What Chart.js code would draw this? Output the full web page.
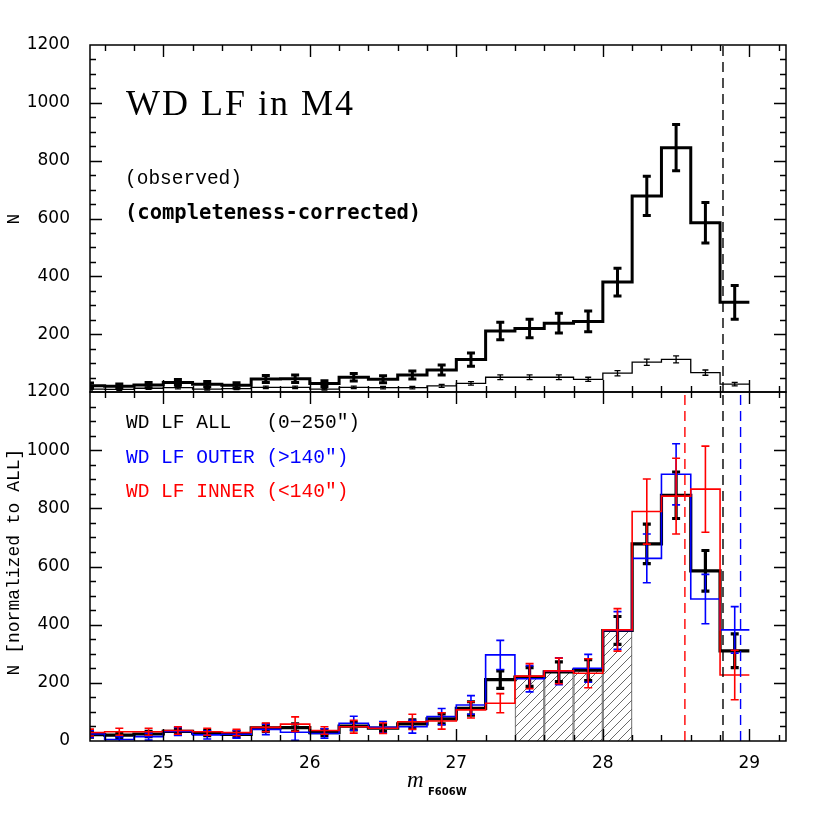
<!DOCTYPE html>
<html><head><meta charset="utf-8">
<script src="https://cdn.jsdelivr.net/npm/chart.js@4.4.1/dist/chart.umd.min.js"></script>
<style>
html,body{margin:0;padding:0;background:#fff;}
#wrap{position:relative;width:830px;height:830px;background:#fff;}
canvas{position:absolute;left:0;top:0;}
</style></head><body>
<div id="wrap"><canvas id="cTop" width="830" height="830"></canvas><canvas id="cBot" width="830" height="830"></canvas></div>
<script>
// ---------------- data ----------------
const binCenters = [24.5,24.7,24.9,25.1,25.3,25.5,25.7,25.9,26.1,26.3,26.5,26.7,26.9,27.1,27.3,27.5,27.7,27.9,28.1,28.3,28.5,28.7,28.9];
const binWidth = 0.2;
// completeness-corrected LF (ALL, 0-250")
const allN   = [22,20,24,33,27,23,45,46,29,51,44,59,76,112,211,220,238,244,380,678,845,585,310];
const allErr = [9,8,9,10,9,9,12,13,10,13,12,14,17,23,30,32,34,36,48,68,80,70,58];
// observed LF
const obsN   = [10,9,13,15,10,12,16,16,10,16,15,15,21,30,51,51,51,44,65,103,113,67,27];
const obsErr = [3,3,4,4,3,4,4,4,3,4,4,4,5,6,8,8,8,7,9,11,12,9,6];
// OUTER (>140")
const outerN   = [24,5,15,33,21,23,40,30,26,61,47,49,84,124,296,214,240,250,380,628,917,488,382];
const outerErr = [12,10,12,14,14,13,18,28,16,24,20,22,28,32,50,45,46,48,65,84,105,85,80];
// INNER (<140")
const innerN   = [29,32,32,36,32,29,47,58,36,49,44,66,69,107,130,223,241,233,382,789,842,866,227];
const innerErr = [12,12,12,13,12,11,15,25,13,22,18,26,28,28,33,43,44,50,73,112,130,148,85];
// hatched bins
const hatchCenters = [27.5,27.7,27.9,28.1];
const hatchN = [220,238,244,380];
// limits (vertical dashed lines)
const allLimit = 28.82;
const innerLimit = 28.56;
const outerLimit = 28.94;
// ticks
const xTickLabels = [25,26,27,28,29];
const yTicksTop = [200,400,600,800,1000,1200];
const yTicksBot = [0,200,400,600,800,1000,1200];
const xRange = [24.5, 29.25];
const yRange = [0, 1200];

// ---------------- helpers ----------------
function stepPoints(centers, vals, w){
  const pts = centers.map((c,i)=>({x:c - w/2, y:vals[i]}));
  pts.push({x:centers[centers.length-1] + w/2, y:vals[vals.length-1]});
  return pts;
}
function vline(x){ return [{x:x,y:yRange[0]},{x:x,y:yRange[1]}]; }

function hatchPattern(){
  const s = 9, c = document.createElement('canvas');
  c.width = s; c.height = s;
  const g = c.getContext('2d');
  g.strokeStyle = '#444'; g.lineWidth = 0.8;
  g.beginPath();
  g.moveTo(0, s); g.lineTo(s, 0);
  g.moveTo(-1, 1); g.lineTo(1, -1);
  g.moveTo(s-1, s+1); g.lineTo(s+1, s-1);
  g.stroke();
  return g.createPattern(c, 'repeat');
}

const errPlugin = {
  id:'errbars',
  afterDatasetDraw(chart, args){
    const ds = chart.data.datasets[args.index];
    if(!ds.errBars) return;
    const e = ds.errBars, xs = chart.scales.x, ys = chart.scales.y, ctx = chart.ctx, a = chart.chartArea;
    ctx.save();
    ctx.beginPath(); ctx.rect(a.left, a.top, a.right-a.left, a.bottom-a.top); ctx.clip();
    ctx.strokeStyle = e.color; ctx.lineWidth = e.lw; ctx.lineCap = 'butt';
    e.centers.forEach((c,i)=>{
      const x = xs.getPixelForValue(c);
      const y1 = ys.getPixelForValue(e.vals[i]-e.errs[i]);
      const y2 = ys.getPixelForValue(e.vals[i]+e.errs[i]);
      ctx.beginPath();
      ctx.moveTo(x,y1); ctx.lineTo(x,y2);
      ctx.moveTo(x-e.cap/2,y1); ctx.lineTo(x+e.cap/2,y1);
      ctx.moveTo(x-e.cap/2,y2); ctx.lineTo(x+e.cap/2,y2);
      ctx.stroke();
    });
    ctx.restore();
  }
};

const framePlugin = {
  id:'frame',
  afterDatasetsDraw(chart){
    const ctx = chart.ctx, a = chart.chartArea, xs = chart.scales.x, ys = chart.scales.y;
    ctx.save();
    ctx.strokeStyle = '#000'; ctx.lineWidth = 1.5;
    ctx.strokeRect(a.left, a.top, a.right-a.left, a.bottom-a.top);
    ctx.lineWidth = 1.4;
    ctx.beginPath();
    for(let k=0;k<=30;k++){
      const v = 24.4 + k*0.2;
      if(v < xRange[0]+1e-6 || v > xRange[1]-1e-6) continue;
      const major = Math.abs(v - Math.round(v)) < 1e-6;
      const L = major ? 12 : 6;
      const x = Math.round(xs.getPixelForValue(v)) + 0.5;
      ctx.moveTo(x, a.bottom); ctx.lineTo(x, a.bottom - L);
      ctx.moveTo(x, a.top); ctx.lineTo(x, a.top + L);
    }
    for(let v=50; v<1200; v+=50){
      const major = v % 200 === 0;
      const L = major ? 12 : 6;
      const y = Math.round(ys.getPixelForValue(v)) + 0.5;
      ctx.moveTo(a.left, y); ctx.lineTo(a.left + L, y);
      ctx.moveTo(a.right, y); ctx.lineTo(a.right - L, y);
    }
    ctx.stroke();
    ctx.restore();
  }
};

function baseOptions(pad, xHeight, yTicks, showX){
  return {
    responsive:false, animation:false, devicePixelRatio:1, events:[],
    layout:{padding:pad},
    plugins:{legend:{display:false}, tooltip:{enabled:false}},
    elements:{point:{radius:0}, line:{tension:0}},
    scales:{
      x:{type:'linear', min:xRange[0], max:xRange[1], offset:false,
         grid:{display:false}, border:{display:false},
         ticks:{display:showX, autoSkip:false, maxRotation:0, padding:4, color:'#000',
                font:{family:'DejaVu Sans', size:17}, callback:v=>String(v)},
         afterBuildTicks:s=>{s.ticks = xTickLabels.map(v=>({value:v}));},
         afterFit:s=>{s.height = xHeight;}},
      y:{type:'linear', min:yRange[0], max:yRange[1],
         grid:{display:false}, border:{display:false},
         ticks:{autoSkip:false, padding:12, color:'#000', font:{family:'DejaVu Sans', size:17},
                callback:v=>String(v)},
         afterBuildTicks:s=>{s.ticks = yTicks.map(v=>({value:v}));},
         afterFit:s=>{s.width = 90;}}
    }
  };
}

const topText = {
  id:'topText',
  afterDraw(chart){
    const ctx = chart.ctx;
    ctx.save();
    ctx.fillStyle = '#000';
    ctx.textBaseline = 'alphabetic'; ctx.textAlign = 'left';
    ctx.font = '36px "Liberation Serif"';
    try{ ctx.letterSpacing = '2px'; }catch(e){}
    ctx.fillText('WD LF in M4', 126, 115);
    try{ ctx.letterSpacing = '0px'; }catch(e){}
    ctx.font = '19.5px "Liberation Mono"';
    ctx.fillText('(observed)', 125, 184);
    ctx.font = 'bold 20.5px "DejaVu Sans Mono"';
    ctx.fillText('(completeness-corrected)', 125, 219);
    ctx.translate(14, 219);
    ctx.rotate(-Math.PI/2);
    ctx.textAlign = 'center'; ctx.textBaseline = 'middle';
    ctx.font = '18px "Liberation Mono"';
    ctx.fillText('N', 0, 0);
    ctx.restore();
  }
};

const botText = {
  id:'botText',
  afterDraw(chart){
    const ctx = chart.ctx;
    ctx.save();
    ctx.textBaseline = 'alphabetic'; ctx.textAlign = 'left';
    ctx.font = '19.5px "Liberation Mono"';
    ctx.fillStyle = '#000'; ctx.fillText('WD LF ALL   (0\u2212250\u2033)', 126, 428);
    ctx.fillStyle = '#0000ff'; ctx.fillText('WD LF OUTER (>140\u2033)', 126, 463);
    ctx.fillStyle = '#ff0000'; ctx.fillText('WD LF INNER (<140\u2033)', 126, 497);
    ctx.fillStyle = '#000';
    ctx.font = 'italic 23px "Liberation Serif"';
    ctx.fillText('m', 407, 787);
    ctx.font = 'bold 10px "DejaVu Sans"';
    ctx.fillText('F606W', 428, 795);
    ctx.translate(14, 562);
    ctx.rotate(-Math.PI/2);
    ctx.textAlign = 'center'; ctx.textBaseline = 'middle';
    ctx.font = '18px "Liberation Mono"';
    ctx.fillText('N [normalized to ALL]', 0, 0);
    ctx.restore();
  }
};

// ---------------- top panel ----------------
new Chart(document.getElementById('cTop'), {
  type:'line',
  data:{datasets:[
    {data:stepPoints(binCenters, allN, binWidth), stepped:'before', borderColor:'#000', borderWidth:3, fill:false,
     errBars:{centers:binCenters, vals:allN, errs:allErr, color:'#000', lw:3, cap:8}},
    {data:stepPoints(binCenters, obsN, binWidth), stepped:'before', borderColor:'#000', borderWidth:1.3, fill:false,
     errBars:{centers:binCenters, vals:obsN, errs:obsErr, color:'#000', lw:1.3, cap:6}},
    {data:vline(allLimit), borderColor:'#000', borderWidth:1.4, borderDash:[10,6], fill:false}
  ]},
  options:baseOptions({left:0, top:45, right:44, bottom:438}, 0, yTicksTop, false),
  plugins:[errPlugin, framePlugin, topText]
});

// ---------------- bottom panel ----------------
new Chart(document.getElementById('cBot'), {
  type:'line',
  data:{datasets:[
    {data:vline(innerLimit), borderColor:'#ff0000', borderWidth:1.4, borderDash:[10,6], fill:false},
    {data:vline(allLimit), borderColor:'#000', borderWidth:1.4, borderDash:[10,6], fill:false},
    {data:vline(outerLimit), borderColor:'#0000ff', borderWidth:1.4, borderDash:[10,6], fill:false},
    {data:stepPoints(binCenters, innerN, binWidth), stepped:'before', borderColor:'#ff0000', borderWidth:1.6, fill:false,
     errBars:{centers:binCenters, vals:innerN, errs:innerErr, color:'#ff0000', lw:1.6, cap:8}},
    {data:stepPoints(binCenters, outerN, binWidth), stepped:'before', borderColor:'#0000ff', borderWidth:1.6, fill:false,
     errBars:{centers:binCenters, vals:outerN, errs:outerErr, color:'#0000ff', lw:1.6, cap:8}},
    {data:stepPoints(binCenters, allN, binWidth), stepped:'before', borderColor:'#000', borderWidth:3.2, fill:false,
     errBars:{centers:binCenters, vals:allN, errs:allErr, color:'#000', lw:3.2, cap:8}},
    {type:'bar', data:hatchCenters.map((c,i)=>({x:c, y:hatchN[i]})), backgroundColor:hatchPattern(),
     borderColor:'#888', borderWidth:0.8, barPercentage:1, categoryPercentage:1}
  ]},
  options:baseOptions({left:0, top:392, right:44, bottom:39}, 50, yTicksBot, true),
  plugins:[errPlugin, framePlugin, botText]
});
</script>
</body></html>
